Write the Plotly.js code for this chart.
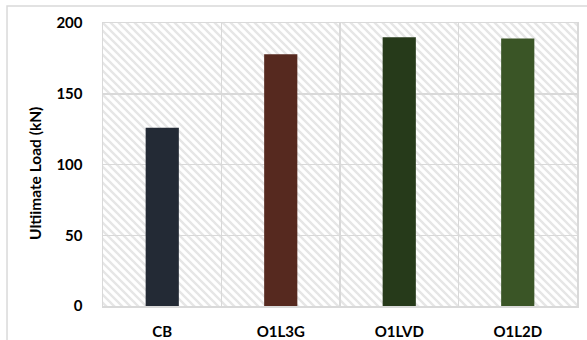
<!DOCTYPE html>
<html>
<head>
<meta charset="utf-8">
<script src="https://cdn.plot.ly/plotly-3.0.1.min.js"></script>
<style>
  html, body { margin: 0; padding: 0; background: #ffffff; }
  #chart { width: 587px; height: 340px; }
</style>
</head>
<body>
<div id="chart"></div>
<script>
// Specimens and their ultimate load (kN)
const specimens = ['CB', 'O1L3G', 'O1LVD', 'O1L2D'];
const ultimateLoad = [126, 178, 190, 189];
const barColors = ['#232a35', '#56291f', '#263a1a', '#3a5526'];
const yTicks = [0, 50, 100, 150, 200];

// Light diagonal hatching for the plotting area
const plotW = 474, plotH = 283;
const hatchSvg =
  '<svg xmlns="http://www.w3.org/2000/svg" width="' + plotW + '" height="' + plotH + '">' +
  '<defs><pattern id="h" patternUnits="userSpaceOnUse" width="8" height="8">' +
  '<path d="M-2,-2 L10,10 M-2,6 L2,10 M6,-2 L10,2" stroke="#e6e6e6" stroke-width="2.4"/>' +
  '</pattern></defs>' +
  '<rect width="100%" height="100%" fill="#ffffff"/>' +
  '<rect width="100%" height="100%" fill="url(#h)"/></svg>';
const hatchUri = 'data:image/svg+xml;base64,' + btoa(hatchSvg);

const fontFamily = 'Lato, "Open Sans", "DejaVu Sans", sans-serif';

const trace = {
  type: 'bar',
  x: specimens,
  y: ultimateLoad,
  marker: { color: barColors, line: { width: 0 } },
  hoverinfo: 'x+y'
};

const layout = {
  width: 587,
  height: 340,
  margin: { l: 103, r: 10, t: 23, b: 34 },
  paper_bgcolor: '#ffffff',
  plot_bgcolor: 'rgba(0,0,0,0)',
  bargap: 0.72,
  showlegend: false,
  font: { family: fontFamily, color: '#000000' },
  xaxis: {
    type: 'category',
    range: [-0.5, 3.5],
    tickson: 'boundaries',
    showgrid: true,
    gridcolor: '#d9d9d9',
    gridwidth: 1.5,
    ticks: '',
    showline: true,
    mirror: true,
    linecolor: '#d9d9d9',
    linewidth: 1.5,
    ticklabelstandoff: 11,
    tickfont: { family: fontFamily, size: 15, color: '#000000', weight: 'bold' },
    fixedrange: true
  },
  yaxis: {
    range: [0, 200],
    tickvals: yTicks,
    ticktext: yTicks.map(String),
    showgrid: true,
    gridcolor: '#d9d9d9',
    gridwidth: 1.5,
    zeroline: false,
    ticks: '',
    showline: true,
    mirror: true,
    linecolor: '#d9d9d9',
    linewidth: 1.5,
    ticklabelstandoff: 16,
    tickfont: { family: fontFamily, size: 15, color: '#000000', weight: 'bold' },
    fixedrange: true
  },
  images: [{
    source: hatchUri,
    xref: 'paper', yref: 'paper',
    x: 0, y: 1, sizex: 1, sizey: 1,
    xanchor: 'left', yanchor: 'top',
    sizing: 'stretch',
    layer: 'below'
  }],
  annotations: [{
    text: 'Ultiimate Load (kN)',
    xref: 'paper', yref: 'paper',
    x: -0.1435, y: 0.47,
    xanchor: 'center', yanchor: 'middle',
    textangle: -90,
    showarrow: false,
    font: { family: fontFamily, size: 15.5, color: '#000000', weight: 'bold' }
  }],
  shapes: [{
    // chart frame
    type: 'rect',
    xref: 'paper', yref: 'paper',
    x0: -0.2025, x1: 1.2,
    y0: -0.3, y1: 1.06,
    line: { color: '#d9d9d9', width: 1.5 },
    fillcolor: 'rgba(0,0,0,0)',
    layer: 'below'
  }]
};

Plotly.newPlot('chart', [trace], layout, { displayModeBar: false, staticPlot: true });
</script>
</body>
</html>
